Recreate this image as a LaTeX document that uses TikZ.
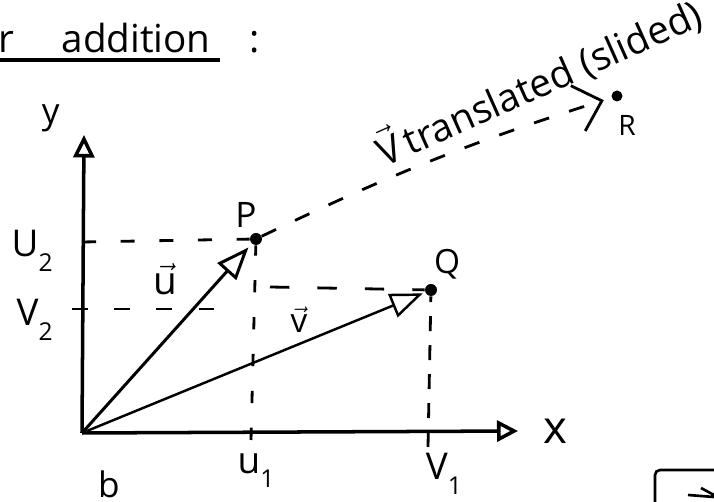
\documentclass[tikz,border=0pt]{standalone}
\usepackage{fontspec}
\setmainfont{Open Sans}
\usetikzlibrary{arrows.meta, positioning}
\newcommand\lowsub[1]{\raisebox{-0.75ex}{\fontsize{14}{14}\selectfont #1}}
\newcommand\handvec[1]{\ensuremath{\vec{\mbox{#1}}}}
\tikzset{
  %% ---- lines ----
  axisline/.style = {line width=2pt, -{Triangle[open, length=#1, width=0.42cm]}},
  axisline/.default = 0.45cm,
  vecline/.style  = {line width=1.7pt,
                     -{Triangle[open, fill=white, length=0.65cm, width=0.5cm]}},
  proj/.style     = {line width=1.6pt, dash pattern=#1},
  proj/.default   = {on 8pt off 14pt},
  slide/.style    = {line width=1.6pt, dash pattern=on 9pt off 12pt,
                     -{Straight Barb[length=0.5cm, width=0.95cm]}},
  %% ---- points and labels ----
  pointdot/.style = {circle, fill=black, inner sep=0pt, minimum size=#1},
  pointdot/.default = 0.24cm,
  hand/.style     = {inner sep=0pt, font=\fontsize{#1}{#1}\selectfont},
  hand/.default   = 21,
}

\begin{document}
\begin{tikzpicture}[x=0.02cm, y=-0.02cm]
  \useasboundingbox (0,0) rectangle (714,502);

  % title
  \node[hand=22, anchor=base west] (title) at (-2,53)
    {r\hspace{27pt}addition\hspace{22pt}:};
  \draw[line width=2.2pt] (0,60) -- (220,60);

  % axes
  \coordinate (O) at (82,433);
  \coordinate (ytip) at (84,135);
  \coordinate (xtip) at (518,431);
  \draw[axisline] (O) -- (ytip);
  \draw[axisline=0.42cm] (O) -- (xtip);
  \node[hand=20, above left=0.06cm and 0.48cm of ytip] (ylab) {y};
  \node[hand=26, right=0.5cm of xtip] (xlab) {x};

  % points
  \node[pointdot] (P) at (256,239) {};
  \node[pointdot] (Q) at (431,290) {};
  \node[pointdot=0.22cm] (R) at (617,96) {};
  \node[hand=20, above=0.1cm of P, xshift=-0.2cm] (Plab) {P};
  \node[hand=19, above=0.08cm of Q, xshift=0.32cm] (Qlab) {Q};
  \node[hand=16, below=0.26cm of R, xshift=0.2cm] (Rlab) {R};

  % projections
  \coordinate (u2) at (82,242);
  \coordinate (v2) at (72,309);
  \coordinate (v2e) at (214,309);
  \coordinate (u1) at (251,440);
  \coordinate (v1) at (428,447);
  \coordinate (qh) at (270,287);
  \draw[proj] (u2) -- (P);
  \draw[proj={on 9pt off 15pt}] (v2) -- (v2e);
  \draw[proj={on 11pt off 16pt}] (qh) -- (Q);
  \draw[proj={on 7pt off 14pt}] (u1) -- (P);
  \draw[proj={on 8.5pt off 8pt}] (v1) -- (Q);

  \node[hand, left=0.58cm of u2, yshift=-0.18cm] (U2lab) {U\lowsub{2}};
  \node[hand, left=0.38cm of v2, yshift=-0.22cm] (V2lab) {V\lowsub{2}};
  \node[hand, below=0.26cm of u1, xshift=0.1cm] (u1lab) {u\lowsub{1}};
  \node[hand, below=0.12cm of v1, xshift=0.32cm] (v1lab) {V\lowsub{1}};

  % vectors
  \draw[vecline, shorten >=0.1cm] (O) -- (P);
  \draw[vecline, line width=1.4pt, shorten >=0.05cm] (O) -- (Q);
  \node[hand=22, anchor=base] (ulab) at (165,295) {\handvec{u}};
  \node[hand=19, anchor=base] (vlab) at (299,333) {\handvec{v}};

  % translated copy of v
  \draw[slide, shorten >=0.16cm] (P) to[bend left=4] (R);
  \node[hand=22, anchor=base, rotate=24] (vtrans) at (545,96)
    {\handvec{V}\hspace{3pt}translated (slided)};

  % bits of the page edge
  \node[hand=20] (scrib) at (109,484) {b};
  \draw[line width=1.5pt, rounded corners=0.1cm] (655,502) |- (714,470);
  \draw[line width=1.5pt] (688,495) -- (714,497) (701,488) -- (714,495);
\end{tikzpicture}
\end{document}
